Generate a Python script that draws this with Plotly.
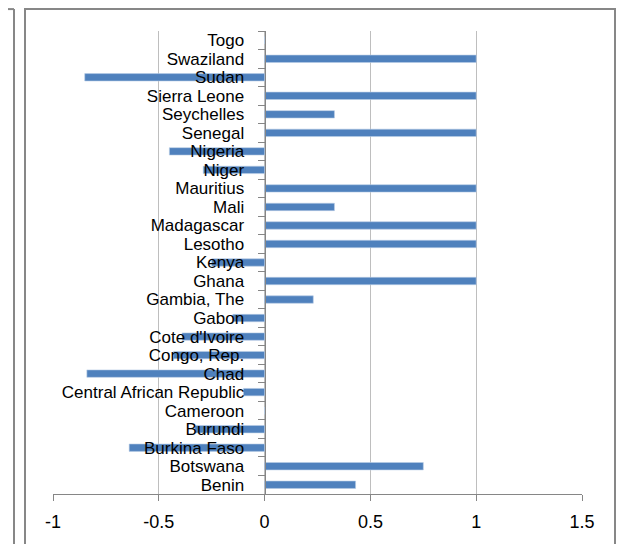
"""
Horizontal bar chart of country scores (Excel-style look)
"""
import plotly.graph_objects as go

# categories listed bottom to top
countries = ["Benin", "Botswana", "Burkina Faso", "Burundi", "Cameroon",
             "Central African Republic", "Chad", "Congo, Rep.", "Cote d'Ivoire",
             "Gabon", "Gambia, The", "Ghana", "Kenya", "Lesotho", "Madagascar",
             "Mali", "Mauritius", "Niger", "Nigeria", "Senegal", "Seychelles",
             "Sierra Leone", "Sudan", "Swaziland", "Togo"]
values = [0.43, 0.75, -0.64, -0.33, 0.0,
          -0.10, -0.84, -0.43, -0.39,
          -0.15, 0.23, 1.0, -0.25, 1.0, 1.0,
          0.33, 1.0, -0.29, -0.45, 1.0, 0.33,
          1.0, -0.85, 1.0, 0.0]
x_ticks = [-1, -0.5, 0, 0.5, 1, 1.5]
x_labels = ["-1", "-0.5", "0", "0.5", "1", "1.5"]

# the page body has an 8px margin, so the figure sits 8px in from the window edge
OFF = 8
W, H = 635 - OFF, 544 - OFF
# plot area in window pixels: x 53..582, y 31..496
M_L, M_R, M_T, M_B = 53 - OFF, W - (582 - OFF), 31 - OFF, H - (496 - OFF)
X_MIN, X_MAX = -1, 1.5


def px_x(px):
    # window pixel -> paper x
    return (px - OFF - M_L) / (W - M_L - M_R)


def px_y(py):
    # window pixel -> paper y
    return (H - M_B - (py - OFF)) / (H - M_T - M_B)


FONT = "Liberation Sans"
GRID = "#BEBEBE"
AXIS = "#868686"
FRAME = "#878787"

fig = go.Figure()

fig.add_trace(go.Bar(
    x=values,
    y=countries,
    orientation="h",
    marker=dict(color="#4F81BD", line=dict(color="#B9CDE5", width=0.6)),
    hoverinfo="x+y",
))

fig.update_layout(
    width=W, height=H,
    margin=dict(l=M_L, r=M_R, t=M_T, b=M_B, pad=0),
    plot_bgcolor="white",
    paper_bgcolor="white",
    showlegend=False,
    bargap=0.6,
    font=dict(family=FONT, size=17, color="#000000"),
    xaxis=dict(
        range=[X_MIN, X_MAX],
        tickvals=x_ticks,
        ticktext=x_labels,
        showgrid=True, gridcolor=GRID, gridwidth=1,
        zeroline=False,
        showline=True, linecolor=AXIS, linewidth=1,
        ticks="outside", ticklen=6, tickcolor=AXIS,
        ticklabelstandoff=5,
        tickfont=dict(family=FONT, size=18, color="#000000"),
    ),
    yaxis=dict(
        type="category",
        categoryorder="array", categoryarray=countries,
        tickmode="linear", tick0=0, dtick=1,
        anchor="free",
        position=(0 - X_MIN) / (X_MAX - X_MIN),
        showgrid=False,
        zeroline=False,
        showline=True, linecolor=AXIS, linewidth=1,
        ticks="outside", ticklen=7, tickcolor=AXIS,
        tickson="boundaries",
        ticklabelstandoff=17,
        tickfont=dict(family=FONT, size=17, color="#000000"),
    ),
)

# chart frame and the edge of the neighbouring chart on the left
fig.add_shape(type="rect", xref="paper", yref="paper",
              x0=px_x(25), x1=px_x(615), y0=px_y(560), y1=px_y(9),
              line=dict(color=FRAME, width=2), layer="below")
fig.add_shape(type="line", xref="paper", yref="paper",
              x0=px_x(14), x1=px_x(14), y0=px_y(560), y1=px_y(9),
              line=dict(color=FRAME, width=2))
fig.add_shape(type="line", xref="paper", yref="paper",
              x0=px_x(0), x1=px_x(14), y0=px_y(9), y1=px_y(9),
              line=dict(color=FRAME, width=2))

fig.write_html("out.html")
